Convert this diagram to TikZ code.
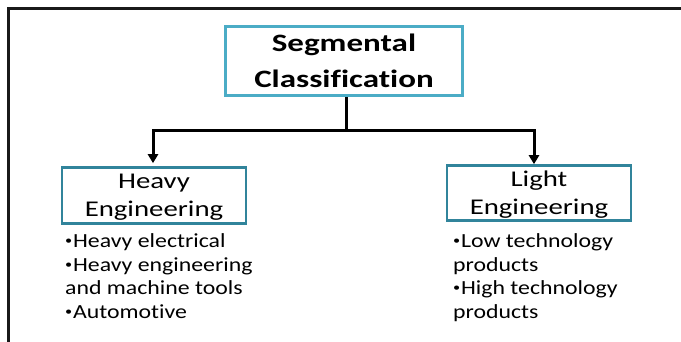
\documentclass[tikz,border=0pt]{standalone}
\usepackage{fontspec}
\setmainfont{Carlito}[Ligatures=NoCommon]
\newfontfamily\titlefont{Carlito}[FakeStretch=1.32, Ligatures=NoCommon]
\newfontfamily\boxfont{Carlito}[FakeStretch=1.28, Ligatures=NoCommon]
\newfontfamily\listfont{Carlito}[FakeStretch=1.19, Ligatures=NoCommon]
\newcommand\smallbullet{{\fontsize{12}{12}\selectfont\raisebox{2.6pt}{•}}\hspace{0.8pt}}
\usetikzlibrary{arrows.meta}
\definecolor{titleblue}{HTML}{4BACC6}
\definecolor{tealbox}{HTML}{31849B}
\begin{document}
\begin{tikzpicture}[x=1pt,y=1pt,
  framestyle/.style={line width=3pt, black!90},
  titlebox/.style={draw=titleblue, line width=3pt, minimum width=237pt, minimum height=69pt,
    inner sep=0pt, align=center, font=\titlefont\fontsize{25}{36}\selectfont\bfseries},
  catbox/.style={draw=tealbox, line width=2.6pt, minimum width=184pt, minimum height=55pt,
    inner sep=0pt, align=center, text depth=0pt, font=\boxfont\fontsize{22.5}{28}\selectfont},
  itemlist/.style={align=left, inner sep=0pt, anchor=north west,
    font=\listfont\fontsize{20}{23.5}\selectfont},
  link/.style={line width=3pt},
  arr/.style={link, -{Triangle[width=10pt,length=9pt]}}
]
\useasboundingbox (0,0) rectangle (681,-342);

% outer frame: top and left edges only
\draw[framestyle] (8,-342) -- (8,-8.5) -- (681,-8.5);

% boxes
\node[titlebox] (top) at (344,-61) {Segmental\\Classification};
\node[catbox, minimum height=56pt] (heavy) at (154,-195.5) {Heavy\\Engineering};
\node[catbox] (light) at (539,-193) {Light\\Engineering};

% tree connectors
\coordinate (split) at (346,-131);
\draw[link] ([xshift=2pt]top.south) -- (split);
\draw[arr] (split) -| ([xshift=-1pt,yshift=3pt]heavy.north);
\draw[arr] (split) -| ([xshift=-5pt]light.north);

% item lists under each category
\node[itemlist] (heavylist) at (65,-233.5)
  {\smallbullet Heavy electrical\\\smallbullet Heavy engineering\\and machine tools\\\smallbullet Automotive};
\node[itemlist] (lightlist) at (453,-233.5)
  {\smallbullet Low technology\\products\\\smallbullet High technology\\products};
\end{tikzpicture}
\end{document}
